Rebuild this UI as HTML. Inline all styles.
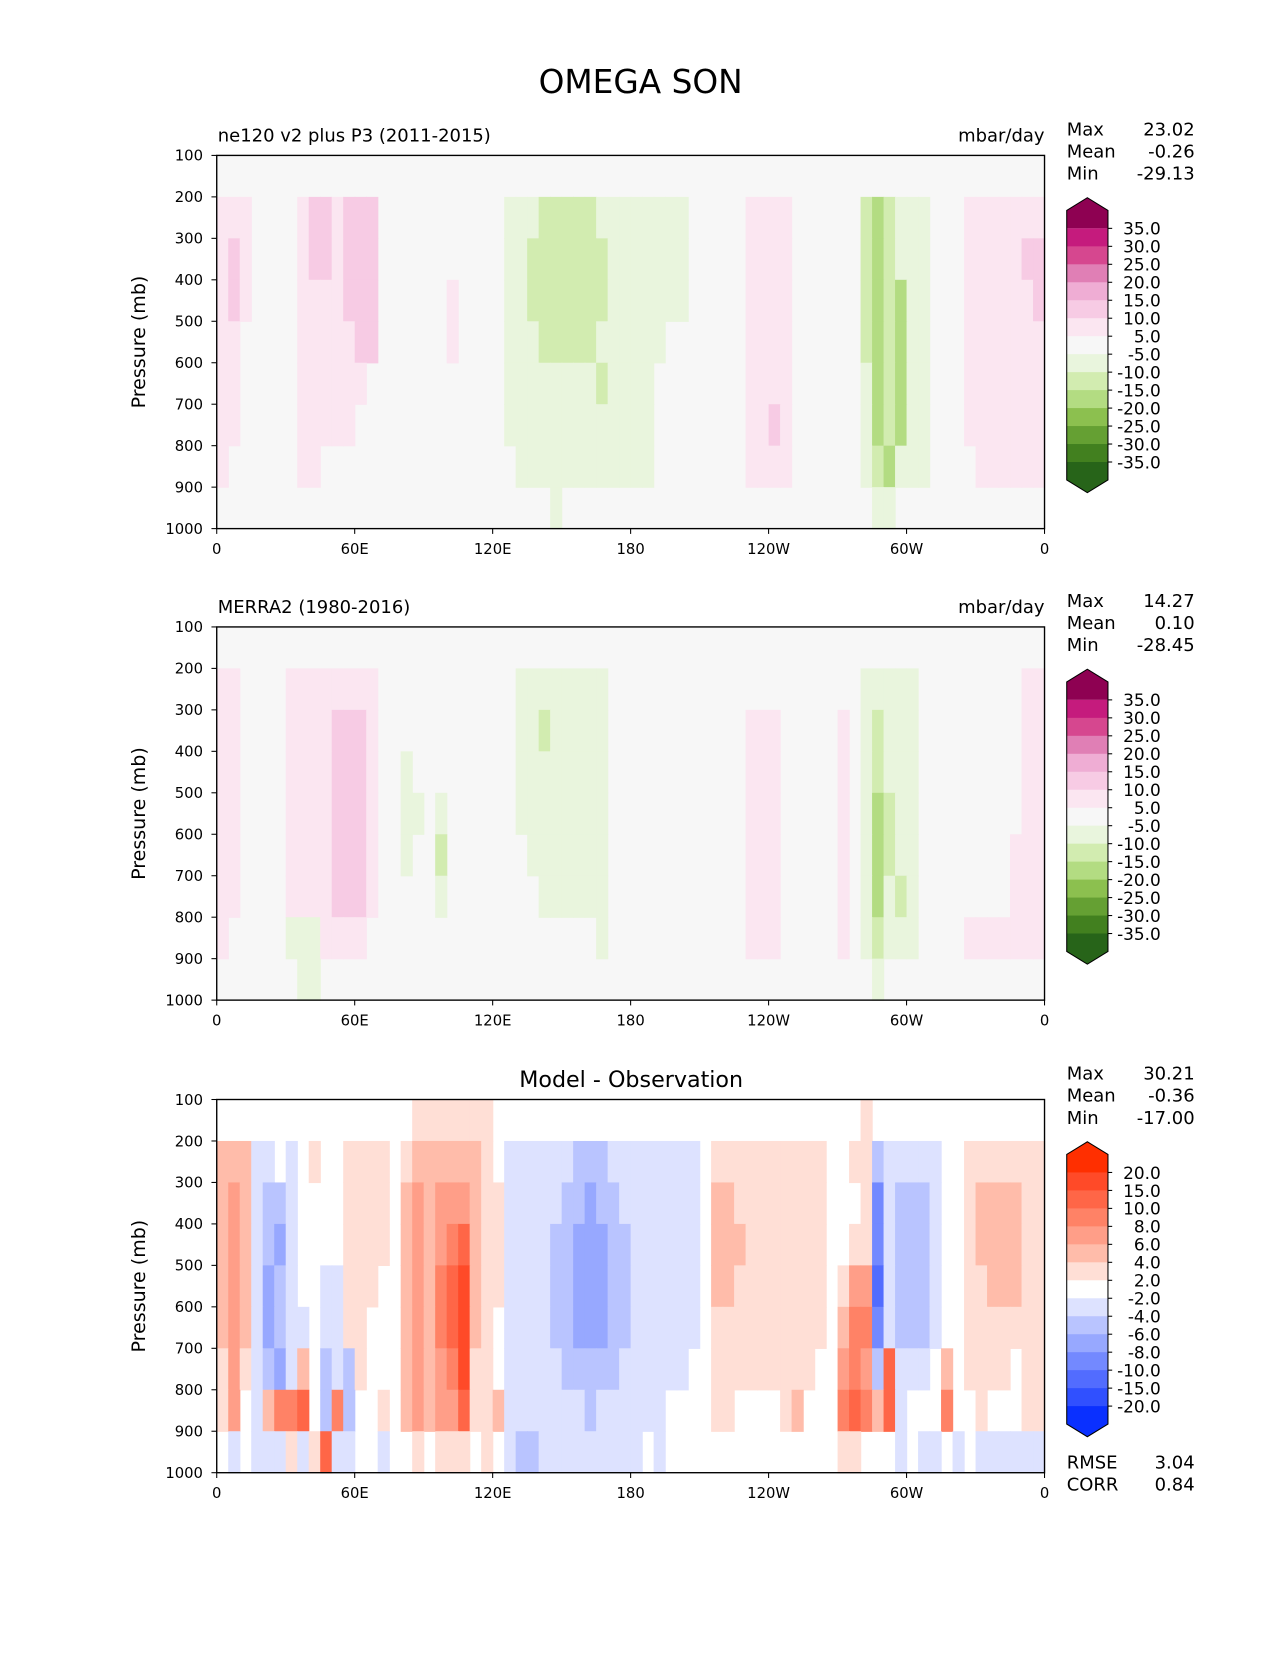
<!DOCTYPE html>
<html><head><meta charset="utf-8"><style>
body{margin:0;background:#fff}
svg text{font-family:"DejaVu Sans","Liberation Sans",sans-serif;fill:#000}
</style></head><body>
<svg id="fig" width="1275" height="1650" viewBox="0 0 1206 1560.7" xmlns="http://www.w3.org/2000/svg">
<text x="606" y="88" font-size="31" text-anchor="middle">OMEGA SON</text>
</svg>
<script>
// ---- data ----
const pressureLevels=[100,200,300,400,500,600,700,800,900,1000];
const lonTickValues=[0,60,120,180,240,300,360];
const lonTickLabels=["0","60E","120E","180","120W","60W","0"];
const cbLevelsPiYG=["35.0","30.0","25.0","20.0","15.0","10.0","5.0","-5.0","-10.0","-15.0","-20.0","-25.0","-30.0","-35.0"];
const cbLevelsDiff=["20.0","15.0","10.0","8.0","6.0","4.0","2.0","-2.0","-4.0","-6.0","-8.0","-10.0","-15.0","-20.0"];
// codes: 0 neutral; 1..6 positive bins; a..e negative bins (5-degree lon columns x 100 mb rows)
const panel1Rows=[
["000","0000","0000000","00000000000","00","0000000","0000000","00000","0000","000000","000000","000","0000000"],
["111","0000","1221222","00000000000","aa","abbbbba","aaaaaaa","00000","1111","000000","bcbaaa","000","1111111"],
["121","0000","1221222","00000000000","aa","bbbbbbb","aaaaaaa","00000","1111","000000","bcbaaa","000","1111122"],
["121","0000","1111222","00000010000","aa","bbbbbbb","aaaaaaa","00000","1111","000000","bcbcaa","000","1111112"],
["110","0000","1111122","00000010000","aa","abbbbba","aaaaa00","00000","1111","000000","bcbcaa","000","1111111"],
["110","0000","1111110","00000000000","aa","aaaaaab","aaaa000","00000","1111","000000","acbcaa","000","1111111"],
["110","0000","1111100","00000000000","aa","aaaaaaa","aaaa000","00000","1121","000000","acbcaa","000","1111111"],
["100","0000","1100000","00000000000","0a","aaaaaaa","aaaa000","00000","1111","000000","abcaaa","000","0111111"],
["000","0000","0000000","00000000000","00","00a0000","0000000","00000","0000","000000","0aa000","000","0000000"]];
const panel2Rows=[
["00","0000","00000000","00","00000","00000","00000000","000000000000","000","00000","0","0","00000","0000","00000","00"],
["11","0000","11111111","00","00000","00000","aaaaaaaa","000000000000","000","00000","0","0","aaaaa","0000","00000","11"],
["11","0000","11112221","00","00000","00000","aabaaaaa","000000000000","111","00000","1","0","abaaa","0000","00000","11"],
["11","0000","11112221","00","a0000","00000","aaaaaaaa","000000000000","111","00000","1","0","abaaa","0000","00000","11"],
["11","0000","11112221","00","aa0a0","00000","aaaaaaaa","000000000000","111","00000","1","0","acbaa","0000","00000","11"],
["11","0000","11112221","00","a00b0","00000","0aaaaaaa","000000000000","111","00000","1","0","acbaa","0000","00001","11"],
["11","0000","11112221","00","000a0","00000","00aaaaaa","000000000000","111","00000","1","0","acaba","0000","00001","11"],
["10","0000","aaa11110","00","00000","00000","0000000a","000000000000","111","00000","1","0","abaaa","0000","11111","11"],
["00","0000","0aa00000","00","00000","00000","00000000","000000000000","000","00000","0","0","0a000","0000","00000","00"]];
const panel3Rows=[
["000","00000","00","000000","011","111","11","0","0000","0000000","000000","0","0000000000","0","001","0","00000","00","0000000"],
["222","aa0a0","10","011110","122","222","21","0","aaaa","aabbbaa","aaaaaa","0","1111111111","0","011","b","aaaaa","00","1111111"],
["232","abba0","00","011110","232","333","21","1","aaaa","abbcbba","aaaaaa","0","2211111111","0","001","d","abbba","00","1222211"],
["232","abca0","00","011110","232","345","21","1","aaaa","bbcccbb","aaaaaa","0","2221111111","0","011","d","abbba","00","1222211"],
["232","acba0","0a","a11100","232","456","21","1","aaaa","bbcccbb","aaaaaa","0","2211111111","0","133","e","abbba","00","1122211"],
["232","acbaa","0a","a11000","232","456","21","0","aaaa","bbcccbb","aaaaaa","0","1111111111","0","244","d","abbba","00","1111111"],
["131","abca2","0b","ab1000","232","346","11","0","aaaa","abbbbba","aaaaa0","0","1111111110","0","343","b","5aaa0","20","1111011"],
["130","a2445","0b","4b0010","232","335","11","2","aaaa","aaabaaa","aaa000","0","1100001200","0","454","2","5a000","40","0100011"],
["0a0","aaa1a","15","aa00a0","010","111","01","0","abba","aaaaaaa","a0a000","0","0000000000","0","110","0","0a0aa","0a","0aaaaaa"]];
const colorsPiYG={"0":"#f7f7f7","1":"#fbe6f1","2":"#f7cbe4","3":"#efadd4","4":"#e07fb5","5":"#d6478f","6":"#c51b7d","a":"#e9f5dd","b":"#d2ecb0","c":"#b3dc82","d":"#8cc04f","e":"#65a033"};
const colorsDiff={"0":"#ffffff","1":"#ffdfd6","2":"#ffbcaa","3":"#ff9e88","4":"#ff8266","5":"#ff6647","6":"#ff4a28","a":"#dde2ff","b":"#b9c4ff","c":"#97a8ff","d":"#7389ff","e":"#526cff"};
const cbColorsPiYG=["#8e0152","#c51b7d","#d6478f","#e07fb5","#efadd4","#f7cbe4","#fbe6f1","#f7f7f7","#e9f5dd","#d2ecb0","#b3dc82","#8cc04f","#65a033","#42801f","#276419"];
const cbColorsDiff=["#ff2f00","#ff4a28","#ff6647","#ff8266","#ff9e88","#ffbcaa","#ffdfd6","#ffffff","#dde2ff","#b9c4ff","#97a8ff","#7389ff","#526cff","#3050ff","#0a30ff"];

const NS="http://www.w3.org/2000/svg";
const svg=document.getElementById('fig');
function mk(tag,attrs,parent){const e=document.createElementNS(NS,tag);for(const k in attrs)e.setAttribute(k,attrs[k]);(parent||svg).appendChild(e);return e;}
function txt(s,x,y,size,anchor,parent){const t=mk('text',{x:x,y:y,'font-size':size,'text-anchor':anchor||'start'},parent);t.textContent=s;return t;}

const X0=205,X1=988,H=353;
function xScale(lon){return X0+(X1-X0)*lon/360;}

function panel(top,rows,colors,bg,title,titleCenter,unit,stats,cbLabels,cbColors,extra){
  const yScale=p=>top+H*(p-100)/900;
  const g=mk('g',{});
  
  
  const bgr=mk('rect',{x:X0,y:top,width:X1-X0,height:H,fill:bg},g);
  
  
  rows.forEach((segs,ri)=>{
    const row=segs.join('');
    for(let ci=0;ci<row.length;ci++){
      const c=row[ci]; if(c==='0')continue;
      const x=xScale(ci*5),y=yScale(pressureLevels[ri]);
      const r=mk('rect',{x:x,y:y,width:xScale((ci+1)*5)-x+0.6,height:yScale(pressureLevels[ri+1])-y+0.6,fill:colors[c]},g);
      
      
    }
  });
  const fr=mk('rect',{x:X0,y:top,width:X1-X0,height:H,fill:'none',stroke:'#000','stroke-width':1.3},g);
  
  
  pressureLevels.forEach(p=>{
    const y=yScale(p);
    mk('line',{x1:X0-5,x2:X0,y1:y,y2:y,stroke:'#000'},g);
    const t=txt(String(p),X0-13,y+5,14,'end',g);
    
    
  });
  lonTickValues.forEach((v,i)=>{
    const x=xScale(v);
    mk('line',{x1:x,x2:x,y1:top+H,y2:top+H+5,stroke:'#000'},g);
    const t=txt(lonTickLabels[i],x,top+H+24,14,'middle',g);
    
    
  });
  const yt=txt('Pressure (mb)',0,0,18,'middle',g);
  yt.setAttribute('transform','translate(137,'+(top+H/2)+') rotate(-90)');
  
  
  if(title){const t=txt(title,206,top-13,17,'start',g);
    
    }
  if(titleCenter){const t=txt(titleCenter,597,top-12,21,'middle',g);
    
    }
  if(unit){const t=txt(unit,988,top-13,17,'end',g);
    
    }
  const sn=['Max','Mean','Min'];
  stats.forEach((s,i)=>{
    const a=txt(sn[i],1009,top-19+i*21,17,'start',g);
    
    
    const b=txt(s,1130,top-19+i*21,17,'end',g);
    
    
  });
  const cx0=1009,cx1=1048,tip=top+40,sh=tip+12,b0=sh+17,band=17;
  const cb=mk('g',{},g);
  
  
  const nb=cbLabels.length-1;
  const bEnd=b0+nb*band;
  mk('polygon',{points:`${cx0},${b0} ${cx0},${sh} ${(cx0+cx1)/2},${tip} ${cx1},${sh} ${cx1},${b0}`,fill:cbColors[0]},cb);
  for(let i=0;i<nb;i++) mk('rect',{x:cx0,y:b0+i*band,width:cx1-cx0,height:band+0.5,fill:cbColors[i+1]},cb);
  mk('polygon',{points:`${cx0},${bEnd} ${cx0},${bEnd+17} ${(cx0+cx1)/2},${bEnd+29} ${cx1},${bEnd+17} ${cx1},${bEnd}`,fill:cbColors[cbColors.length-1]},cb);
  mk('polygon',{points:`${cx0},${sh} ${(cx0+cx1)/2},${tip} ${cx1},${sh} ${cx1},${bEnd+17} ${(cx0+cx1)/2},${bEnd+29} ${cx0},${bEnd+17}`,fill:'none',stroke:'#000','stroke-width':1},cb);
  cbLabels.forEach((l,i)=>{
    const y=b0+i*band;
    mk('line',{x1:cx1,x2:cx1+4,y1:y,y2:y,stroke:'#000'},cb);
    const t=txt(l,1098,y+6,16,'end',cb);
    
    
  });
  if(extra){
    ['RMSE','CORR'].forEach((n,i)=>{
      const a=txt(n,1009,top+H-4+i*21,17,'start',g);
      
      
      const b=txt(extra[i],1130,top+H-4+i*21,17,'end',g);
      
      
    });
  }
}
panel(147,panel1Rows,colorsPiYG,'#f7f7f7','ne120 v2 plus P3 (2011-2015)',null,'mbar/day',['23.02','-0.26','-29.13'],cbLevelsPiYG,cbColorsPiYG,null);
panel(593,panel2Rows,colorsPiYG,'#f7f7f7','MERRA2 (1980-2016)',null,'mbar/day',['14.27','0.10','-28.45'],cbLevelsPiYG,cbColorsPiYG,null);
panel(1040,panel3Rows,colorsDiff,'#ffffff',null,'Model - Observation',null,['30.21','-0.36','-17.00'],cbLevelsDiff,cbColorsDiff,['3.04','0.84']);
</script>
</body></html>
